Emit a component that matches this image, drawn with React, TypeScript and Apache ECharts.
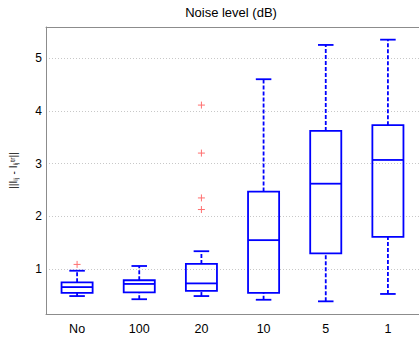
import React, { useEffect, useRef } from "react";
import * as echarts from "echarts";

const categories = ["No", "100", "20", "10", "5", "1"];
const lowerWhisker = [0.49, 0.43, 0.49, 0.42, 0.39, 0.53];
const q1 = [0.55, 0.56, 0.59, 0.55, 1.3, 1.61];
const median = [0.66, 0.72, 0.73, 1.55, 2.62, 3.07];
const q3 = [0.75, 0.79, 1.1, 2.47, 3.62, 3.73];
const upperWhisker = [0.97, 1.06, 1.34, 4.6, 5.25, 5.35];
const outlierCategory = [0, 2, 2, 2, 2];
const outlierValue = [1.09, 4.11, 3.2, 2.35, 2.13];

const BLUE = "#0000ff";
const FONT = "Liberation Sans, Arial, sans-serif";

export default function App() {
  const ref = useRef<HTMLDivElement>(null);
  useEffect(() => {
    if (!ref.current) return;
    const chart = echarts.init(ref.current, undefined, { renderer: "svg" });
    const boxData = categories.map((_, i) => [
      i,
      lowerWhisker[i],
      q1[i],
      median[i],
      q3[i],
      upperWhisker[i],
    ]);
    const outData = outlierCategory.map((c, i) => [c, outlierValue[i]]);
    const renderBox = (params: any, api: any) => {
      const idx = api.value(0);
      const x = api.coord([idx, 0])[0];
      const band = api.size([1, 0])[0];
      const y = (k: number) => api.coord([idx, api.value(k)])[1];
      const hw = band * 0.25;
      const cw = band * 0.125;
      const solid = { stroke: BLUE, lineWidth: 1.8, fill: "none" };
      const dashed = { stroke: BLUE, lineWidth: 1.8, lineDash: [4, 2] };
      return {
        type: "group",
        children: [
          { type: "line", shape: { x1: x, y1: y(4), x2: x, y2: y(5) }, style: dashed },
          { type: "line", shape: { x1: x, y1: y(1), x2: x, y2: y(2) }, style: dashed },
          { type: "line", shape: { x1: x - cw, y1: y(5), x2: x + cw, y2: y(5) }, style: solid },
          { type: "line", shape: { x1: x - cw, y1: y(1), x2: x + cw, y2: y(1) }, style: solid },
          {
            type: "rect",
            shape: { x: x - hw, y: y(4), width: hw * 2, height: y(2) - y(4) },
            style: { stroke: BLUE, lineWidth: 1.8, fill: "rgba(0,0,0,0)" },
          },
          { type: "line", shape: { x1: x - hw, y1: y(3), x2: x + hw, y2: y(3) }, style: solid },
        ],
      };
    };
    const renderPlus = (params: any, api: any) => {
      const p = api.coord([api.value(0), api.value(1)]);
      const s = 3.5;
      const st = { stroke: "#ff7070", lineWidth: 1 };
      return {
        type: "group",
        children: [
          { type: "line", shape: { x1: p[0] - s, y1: p[1], x2: p[0] + s, y2: p[1] }, style: st },
          { type: "line", shape: { x1: p[0], y1: p[1] - s, x2: p[0], y2: p[1] + s }, style: st },
        ],
      };
    };
    chart.setOption({
      animation: false,
      grid: { left: 43, right: -3, top: 27, bottom: 25, show: false },
      graphic: [
        {
          type: "text",
          x: 231,
          y: 12,
          style: {
            text: "Noise level (dB)",
            font: `13px ${FONT}`,
            fill: "#000",
            textAlign: "center",
            textVerticalAlign: "middle",
          },
        },
      ],
      xAxis: [
        {
          type: "category",
          data: categories,
          position: "bottom",
          boundaryGap: true,
          axisLine: { lineStyle: { color: "#8c8c8c", width: 1 } },
          axisTick: { inside: true, alignWithLabel: true, length: 4, lineStyle: { color: "#aaaaaa" } },
          axisLabel: { color: "#000", fontSize: 12.5, fontFamily: FONT, margin: 8 },
          splitLine: { show: false },
        },
        {
          type: "category",
          data: categories,
          position: "top",
          boundaryGap: true,
          axisLine: { lineStyle: { color: "#8c8c8c", width: 1 } },
          axisTick: { inside: true, alignWithLabel: true, length: 4, lineStyle: { color: "#aaaaaa" } },
          axisLabel: { show: false },
          splitLine: { show: false },
        },
      ],
      yAxis: [
        {
          type: "value",
          min: 0.15,
          max: 5.59,
          minInterval: 1,
          maxInterval: 1,
          name: "||Iᵢⱼ - Iᵢⱼᵗʳ||",
          nameLocation: "middle",
          nameRotate: 90,
          nameGap: 28,
          nameTextStyle: { fontSize: 10, color: "#000", fontFamily: FONT },
          axisLine: { show: true, lineStyle: { color: "#8c8c8c", width: 1 } },
          axisTick: { show: false },
          axisLabel: {
            color: "#000",
            fontSize: 12,
            fontFamily: FONT,
            margin: 4,
            showMinLabel: false,
            showMaxLabel: false,
          },
          splitLine: {
            show: true,
            showMinLine: false,
            showMaxLine: false,
            lineStyle: { color: "#c8c8c8", type: [1, 2], width: 1 },
          },
        },
      ],
      series: [
        {
          type: "custom",
          renderItem: renderBox,
          data: boxData,
          encode: { x: 0, y: [1, 2, 3, 4, 5] },
          z: 3,
        },
        {
          type: "custom",
          renderItem: renderPlus,
          data: outData,
          encode: { x: 0, y: 1 },
          z: 2,
        },
      ],
    });
    return () => chart.dispose();
  }, []);
  return (
    <div
      ref={ref}
      style={{ position: "absolute", left: 0, top: 0, width: 419, height: 339, background: "#fff" }}
    />
  );
}
